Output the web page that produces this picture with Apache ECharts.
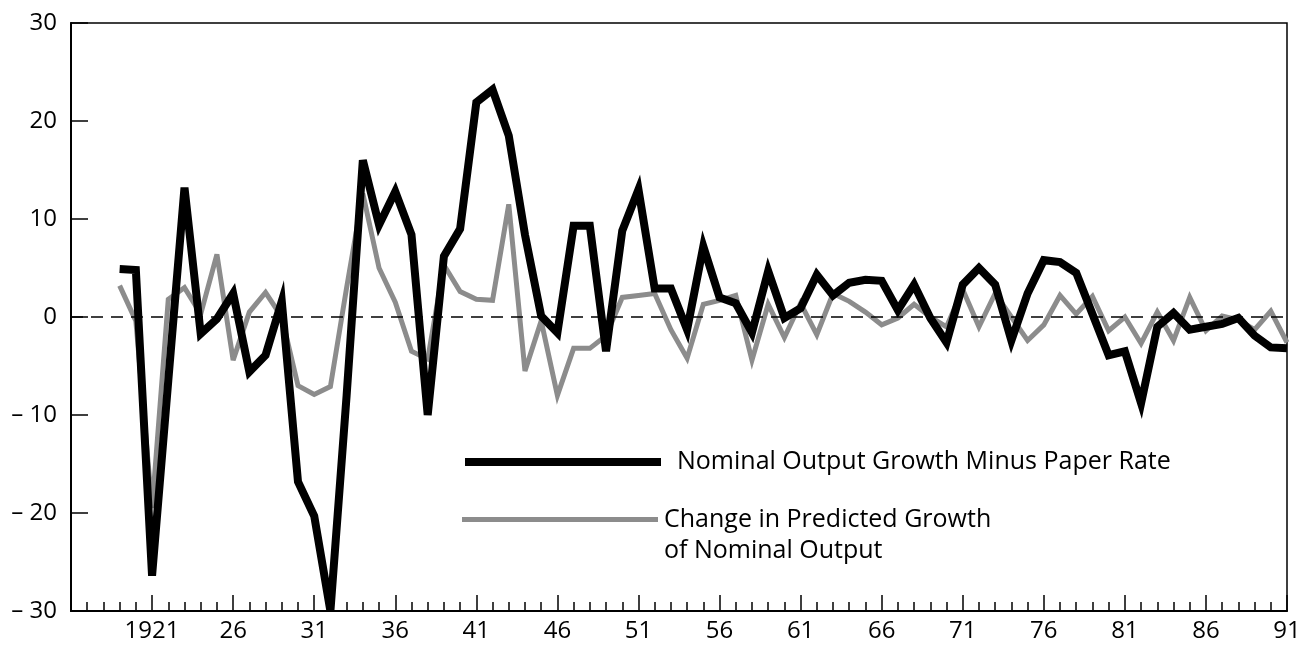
<!DOCTYPE html>
<html>
<head>
<meta charset="utf-8">
<script src="https://cdn.jsdelivr.net/npm/echarts@6/dist/echarts.min.js"></script>
<style>html,body{margin:0;padding:0;background:#fff;}#c{width:1311px;height:649px;}</style>
</head>
<body>
<div id="c"></div>
<script>
// Years on the axis (1916 - 1991)
var years = [];
for (var y = 1916; y <= 1991; y++) years.push(String(y));

// Nominal output growth minus paper rate (1916-1991; null before 1919)
var nominalMinusPaper = [null, null, null,
  4.9, 4.8, -26.4, -6.5, 13.2, -1.7, -0.2, 2.4, -5.6, -3.9, 1.6,
  -16.8, -20.3, -30.0, -8.0, 16.0, 9.4, 12.8, 8.4, -10.0, 6.2,
  9.0, 21.9, 23.2, 18.5, 8.4, 0.1, -1.6, 9.3, 9.3, -3.5,
  8.8, 13.0, 2.9, 2.9, -1.3, 7.2, 2.0, 1.4, -1.6, 4.7,
  -0.1, 0.9, 4.3, 2.2, 3.5, 3.8, 3.7, 0.7, 3.3, -0.1,
  -2.6, 3.3, 5.0, 3.3, -2.4, 2.4, 5.8, 5.6, 4.5, 0.3,
  -3.9, -3.5, -8.8, -1.0, 0.4, -1.3, -1.0, -0.7, -0.1, -1.9,
  -3.1, -3.2];

// Change in predicted growth of nominal output
var predictedChange = [null, null, null,
  3.2, -0.4, -19.5, 1.8, 3.0, 0.3, 6.4, -4.4, 0.5, 2.5, 0.0,
  -7.0, -7.9, -7.1, 3.0, 12.6, 5.0, 1.5, -3.5, -4.3, 5.3,
  2.6, 1.8, 1.7, 11.5, -5.5, -0.4, -8.0, -3.2, -3.2, -1.9,
  2.0, 2.2, 2.4, -1.3, -4.2, 1.3, 1.7, 2.2, -4.4, 1.3,
  -2.1, 1.4, -1.8, 2.4, 1.6, 0.5, -0.8, -0.1, 1.3, 0.0,
  -1.0, 2.8, -1.0, 2.4, 0.0, -2.4, -0.8, 2.2, 0.3, 2.1,
  -1.4, 0.0, -2.7, 0.5, -2.4, 2.0, -1.4, 0.1, -0.3, -1.3,
  0.6, -2.6];

var yTicks = [-30, -20, -10, 0, 10, 20, 30];
var seriesNames = ['Nominal Output Growth Minus Paper Rate', 'Change in Predicted Growth\nof Nominal Output'];

var FONT = 'Open Sans';
var chart = echarts.init(document.getElementById('c'));
chart.setOption({
  animation: false,
  backgroundColor: '#fff',
  grid: { left: 71, right: 24, top: 23, bottom: 38, show: true, borderColor: '#000', borderWidth: 1.5, containLabel: false },
  legend: [{
    data: [seriesNames[0]], left: 465, top: 448, padding: 0, orient: 'vertical',
    itemWidth: 196, itemHeight: 8, icon: 'rect',
    itemStyle: { color: '#000' },
    textStyle: { fontFamily: FONT, fontSize: 25, color: '#000', lineHeight: 28, padding: [0, 0, 0, 11] },
    selectedMode: false
  }, {
    data: [seriesNames[1]], left: 462, top: 473, padding: 0, orient: 'vertical',
    itemWidth: 196, itemHeight: 5, icon: 'rect',
    itemStyle: { color: '#8c8c8c' },
    formatter: function (name) { return ' \n' + name; },
    textStyle: { fontFamily: FONT, fontSize: 25, color: '#000', lineHeight: 31, padding: [0, 0, 0, 1] },
    selectedMode: false
  }],
  xAxis: [{
    type: 'category', data: years, boundaryGap: false, position: 'bottom',
    axisLine: { show: true, onZero: false, lineStyle: { color: '#000', width: 2 } },
    axisTick: { show: true, inside: true, length: 9, interval: 0, lineStyle: { color: '#000', width: 1.5 } },
    axisLabel: {
      fontFamily: FONT, fontSize: 24, color: '#000', margin: 8,
      interval: function (i) { return i % 5 === 0 && i > 0; },
      formatter: function (v) { return v === '1921' ? v : v.slice(2); }
    },
    splitLine: { show: false }
  }, {
    type: 'category', data: years, boundaryGap: false, position: 'bottom', gridIndex: 0,
    axisLine: { show: false, onZero: false },
    axisTick: { show: true, inside: true, length: 16, interval: function (i) { return i % 5 === 0 && i > 0; }, lineStyle: { color: '#000', width: 1.5 } },
    axisLabel: { show: false },
    splitLine: { show: false }
  }],
  yAxis: {
    type: 'value', min: yTicks[0], max: yTicks[yTicks.length - 1], interval: 10,
    axisLine: { show: true, lineStyle: { color: '#000', width: 2 } },
    axisTick: { show: true, inside: true, length: 17, lineStyle: { color: '#000', width: 1.5 } },
    axisLabel: {
      fontFamily: FONT, fontSize: 24, color: '#000', margin: 14,
      formatter: function (v) { return v < 0 ? '\u2013 ' + Math.abs(v) : String(v); }
    },
    splitLine: { show: false }
  },
  series: [{
    name: seriesNames[1], type: 'line', data: predictedChange, xAxisIndex: 0,
    showSymbol: false, symbol: 'none', connectNulls: false,
    lineStyle: { color: '#8c8c8c', width: 5, join: 'miter', miterLimit: 4 },
    itemStyle: { color: '#8c8c8c' },
    markLine: {
      silent: true, symbol: 'none', label: { show: false },
      lineStyle: { color: '#000', width: 1.5, type: [12, 8] },
      data: [{ yAxis: 0 }]
    },
    z: 2
  }, {
    name: seriesNames[0], type: 'line', data: nominalMinusPaper, xAxisIndex: 0,
    showSymbol: false, symbol: 'none',
    lineStyle: { color: '#000', width: 8, join: 'miter', miterLimit: 6 },
    itemStyle: { color: '#000' },
    z: 3
  }]
});
</script>
</body>
</html>
